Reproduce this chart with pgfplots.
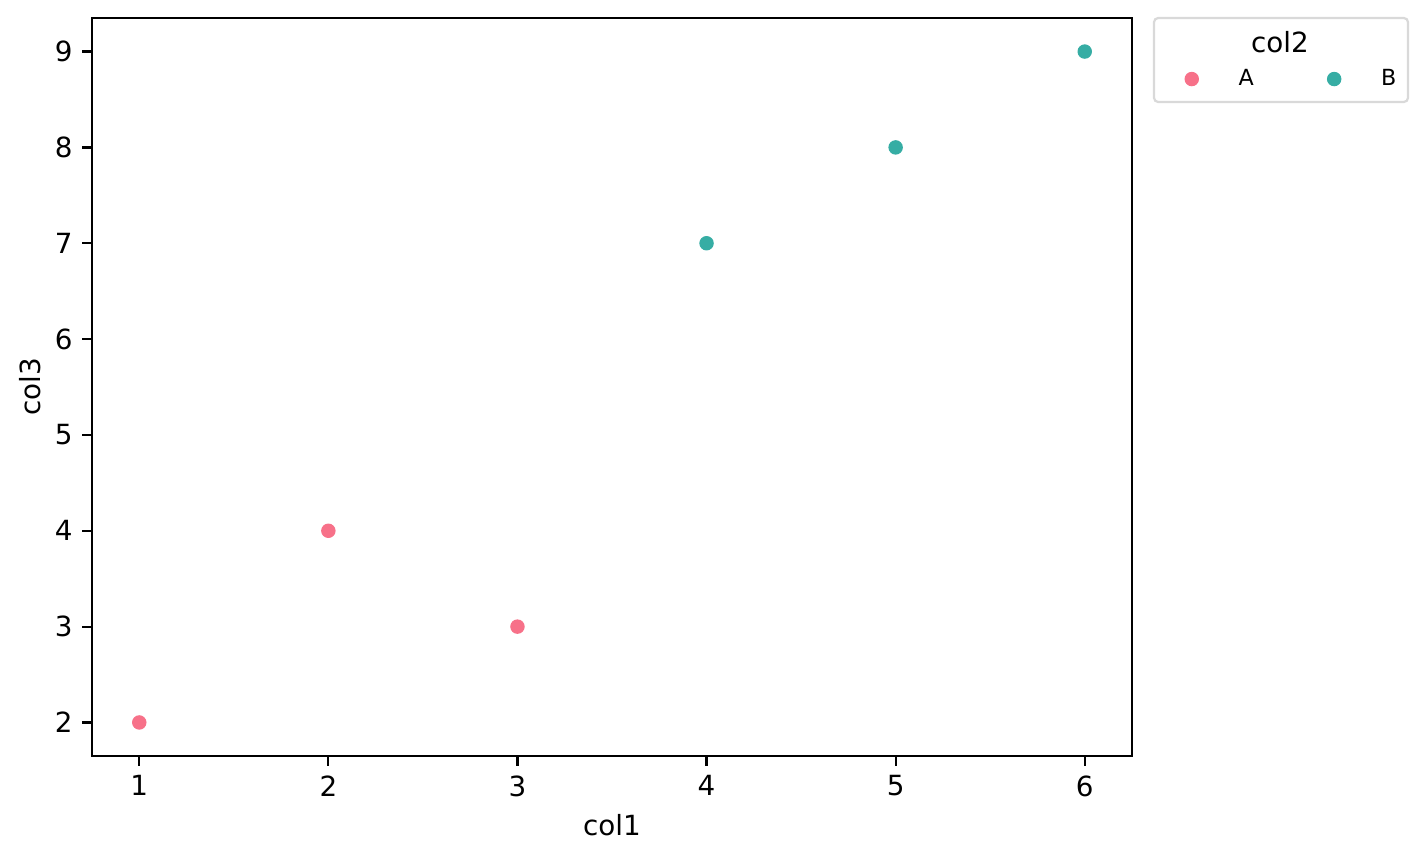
\documentclass[border=0pt]{standalone}
\usepackage{fontspec}
\setmainfont{DejaVu Sans}
\usepackage{pgfplots}
\pgfplotsset{compat=1.18}
\definecolor{colA}{HTML}{F77189}
\definecolor{colB}{HTML}{36ADA4}
\definecolor{legframe}{HTML}{D9D9D9}

\begin{document}
\begin{tikzpicture}
\useasboundingbox (-33.12pt,-36.72pt) rectangle (480.24pt,272.16pt);
\begin{axis}[
  at={(0,0)}, anchor=south west,
  scale only axis,
  width=374.4pt, height=265.68pt,
  xmin=0.75, xmax=6.25,
  ymin=1.65, ymax=9.35,
  xtick={1,2,3,4,5,6},
  ytick={2,3,4,5,6,7,8,9},
  tick align=outside,
  major tick length=3.5pt,
  every tick/.style={black, line width=0.8pt},
  axis line style={line width=0.8pt},
  tick pos=left,
  tick label style={font=\fontsize{10}{12}\selectfont},
  /pgf/number format/assume math mode=true,
  xlabel={col1}, ylabel={col3},
  label style={font=\fontsize{10}{12}\selectfont},
  xlabel style={yshift=0.5pt},
  ylabel style={yshift=-2pt},
  clip=false,
  legend columns=2,
  legend style={
    at={(axis description cs:1.0505,0.9173)}, anchor=west,
    draw=none, fill=none, inner xsep=0pt, inner ysep=0pt,
    font=\fontsize{8}{10}\selectfont,
    /tikz/every odd column/.append style={column sep=12.5pt},
    /tikz/every even column/.append style={column sep=24.5pt},
  },
]
\addplot[only marks, mark=*, mark size=2.4pt, mark options={draw=colA, fill=colA}]
  coordinates {(1,2) (2,4) (3,3)};
\addlegendentry{A}
\addplot[only marks, mark=*, mark size=2.4pt, mark options={draw=colB, fill=colB}]
  coordinates {(4,7) (5,8) (6,9)};
\addlegendentry{B}
\end{axis}
% legend frame and title
\draw[legframe, line width=0.8pt, rounded corners=1.5pt] (382.32pt,235.44pt) rectangle (473.76pt,265.68pt);
\node[font=\fontsize{10}{12}\selectfont] at (427.68pt,257.04pt) {col2};
\end{tikzpicture}
\end{document}
